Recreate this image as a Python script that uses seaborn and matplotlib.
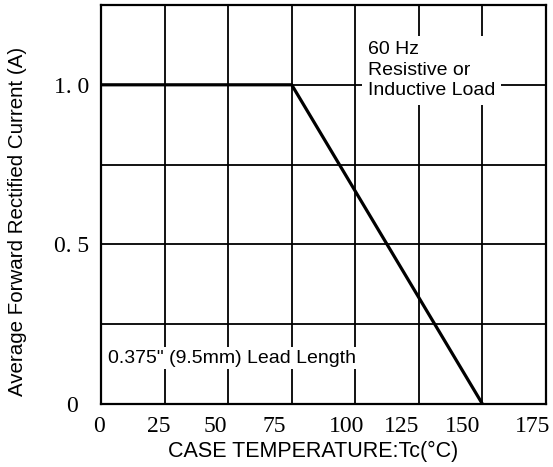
import matplotlib
matplotlib.use("Agg")
import matplotlib.pyplot as plt
import matplotlib.transforms as mtransforms
import seaborn as sns
import pandas as pd

# Data
temps = [0, 75, 150]
currents = [1.0, 1.0, 0.0]
x_ticks = [0, 25, 50, 75, 100, 125, 150, 175]
x_ticklabels = ["0", "25", "50", "75", "100", "125", "150", "175"]
y_grid = [0, 0.25, 0.5, 0.75, 1.0, 1.25]
y_ticks = [0, 0.5, 1.0]
y_ticklabels = ["0", "0. 5", "1. 0"]
note_top = "60 Hz\nResistive or\nInductive Load"
note_bottom = "0.375\" (9.5mm) Lead Length"
xlabel = "CASE TEMPERATURE:Tc(°C)"
ylabel = "Average Forward Rectified Current (A)"

sns.set_theme(style="white")
plt.rcParams["font.family"] = ["Liberation Sans", "DejaVu Sans"]

fig = plt.figure(figsize=(5.53, 4.67), dpi=100)
ax = fig.add_axes([101 / 553, 1 - 404 / 467, 445 / 553, 399 / 467])

df = pd.DataFrame({"T": temps, "I": currents})

# grid
for xv in x_ticks[1:-1]:
    ax.axvline(xv, color="black", lw=1.3, zorder=1)
for yv in y_grid[1:-1]:
    ax.axhline(yv, color="black", lw=1.3, zorder=1)

sns.lineplot(data=df, x="T", y="I", color="black", lw=2.3, ax=ax, zorder=3)

ax.set_xlim(0, 175)
ax.set_ylim(0, 1.25)
ax.set_xticks(x_ticks)
ax.set_xticklabels(x_ticklabels, family="Liberation Serif", fontsize=17)
ax.set_yticks(y_ticks)
ax.set_yticklabels(y_ticklabels, family="Liberation Serif", fontsize=17, ha="center")
ax.tick_params(axis="x", length=0, pad=9, colors="black")
ax.tick_params(axis="y", length=0, pad=21, colors="black")

# x tick labels sit slightly left of their grid lines in the reference
shifts_px = [-2, -6, -13, -17, -9, -17, -20, -13]
for lab, dx in zip(ax.get_xticklabels(), shifts_px):
    lab.set_transform(lab.get_transform() +
                      mtransforms.ScaledTranslation(dx / 100, 0, fig.dpi_scale_trans))

for s in ax.spines.values():
    s.set_visible(True)
    s.set_color("black")
    s.set_linewidth(1.6)

ax.set_xlabel(xlabel, fontsize=15.5, color="black", va="top")
ax.xaxis.set_label_coords(0.476, -0.093)
ax.set_ylabel(ylabel, fontsize=14.8, color="black")
ax.yaxis.set_label_coords(-0.166, 0.457)

ax.text(105, 1.046, note_top, fontsize=14, ha="left", va="center", linespacing=1.25,
        color="black", zorder=4,
        bbox=dict(facecolor="white", edgecolor="none", pad=4))
ax.text(2.8, 0.144, note_bottom, fontsize=14, ha="left", va="center",
        color="black", zorder=4,
        bbox=dict(facecolor="white", edgecolor="none", pad=2))

fig.savefig("out.png", dpi=100)
